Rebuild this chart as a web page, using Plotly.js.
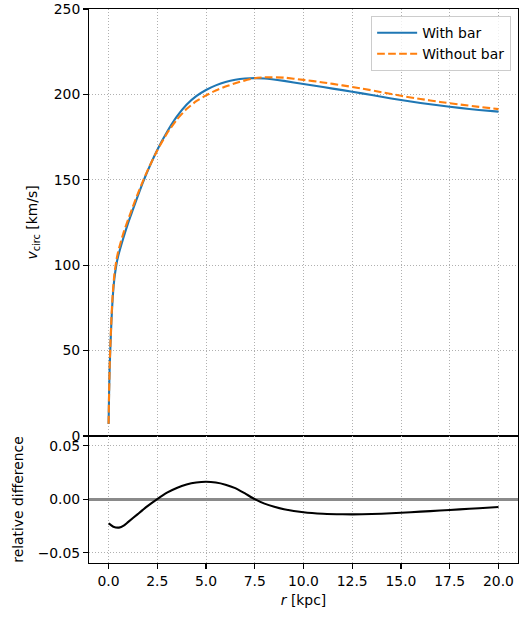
<!DOCTYPE html>
<html>
<head>
<meta charset="utf-8">
<script src="https://cdn.plot.ly/plotly-3.0.1.min.js"></script>
<style>
  html, body { margin: 0; padding: 0; background: #fff; }
  #chart { width: 519px; height: 617px; }
</style>
</head>
<body>
<div id="chart"></div>
<script>
// Radius grid [kpc]
const radius = [0.005, 0.03, 0.06, 0.09, 0.15, 0.21, 0.3, 0.4, 0.5, 0.75, 1.0, 1.25, 1.5, 1.75, 2.0, 2.5, 3.0, 3.5, 4.0, 4.5, 5.0, 5.5, 6.0, 6.5, 7.0, 7.5, 8.0, 9, 10, 11, 12, 13, 14, 15, 16, 17, 18, 19, 20];
// Circular velocity with bar [km/s]
const vWithBar = [7, 25, 40, 50, 67, 80, 92, 100, 105.5, 115.5, 124.5, 132.5, 140.5, 148, 155, 167.5, 178, 187, 194, 199, 202.6, 205.3, 207.3, 208.6, 209.3, 209.5, 209.3, 207.9, 206.1, 204.3, 202.5, 200.6, 198.6, 196.7, 195.0, 193.5, 192.1, 190.9, 189.9];
// Circular velocity without bar [km/s]
const vWithoutBar = [7.2, 25.5, 41, 51.2, 69, 82, 94.5, 102.6, 108.2, 118.3, 126.5, 134.3, 141.8, 148.8, 155.4, 167.2, 177.2, 185.2, 191.4, 196.0, 199.4, 202.3, 204.6, 206.5, 208.2, 209.5, 210, 209.8, 208.5, 207, 205.3, 203.4, 201.3, 199.2, 197.3, 195.6, 194.1, 192.7, 191.4];
// Relative difference panel
const radiusDiff = [0.005, 0.1, 0.25, 0.54, 0.8, 1.0, 1.5, 2.0, 2.5, 3.0, 3.5, 4.0, 4.5, 5.0, 5.5, 6.0, 6.5, 7.0, 7.5, 8.0, 8.5, 9.0, 10, 11, 12, 13, 14, 15, 16, 17, 18, 19, 20];
const relDiff = [-0.0225, -0.0237, -0.0256, -0.0264, -0.0243, -0.0213, -0.0138, -0.0063, 0.0003, 0.0062, 0.0106, 0.0138, 0.0157, 0.0164, 0.0157, 0.0137, 0.0105, 0.0055, 0.0002, -0.0040, -0.0070, -0.0092, -0.0121, -0.0135, -0.0140, -0.0140, -0.0134, -0.0125, -0.0115, -0.0105, -0.0094, -0.0083, -0.0071];

const legendLabels = ['With bar', 'Without bar'];
const xTickVals = [0, 2.5, 5, 7.5, 10, 12.5, 15, 17.5, 20];
const vTickVals = [0, 50, 100, 150, 200, 250];
const dTickVals = [-0.05, 0, 0.05];

const FONT = 'DejaVu Sans, sans-serif';
const FS = 13.9;
const gridStyle = { showgrid: true, gridcolor: '#b0b0b0', gridwidth: 1, griddash: '1px,2px' };
const axisCommon = {
  showline: true, linecolor: '#000', linewidth: 1.1, mirror: true,
  ticks: 'outside', ticklen: 4.9, tickwidth: 1.1, tickcolor: '#000',
  zeroline: false, tickfont: { family: FONT, size: FS, color: '#000' }
};

const traces = [
  { x: radius, y: vWithBar, xaxis: 'x', yaxis: 'y', type: 'scatter', mode: 'lines',
    name: legendLabels[0], line: { color: '#1f77b4', width: 2.1, shape: 'spline', smoothing: 0.5 } },
  { x: radius, y: vWithoutBar, xaxis: 'x', yaxis: 'y', type: 'scatter', mode: 'lines',
    name: legendLabels[1], line: { color: '#ff7f0e', width: 2.1, dash: '7.7px,3.3px', shape: 'spline', smoothing: 0.5 } },
  { x: radiusDiff, y: relDiff, xaxis: 'x2', yaxis: 'y2', type: 'scatter', mode: 'lines',
    showlegend: false, line: { color: '#000', width: 2.1, shape: 'spline', smoothing: 0.5 } }
];

const split = 127 / 554;
const layout = {
  width: 519, height: 617,
  margin: { l: 89, r: 1, t: 9, b: 54 },
  paper_bgcolor: '#fff', plot_bgcolor: '#fff',
  font: { family: FONT, size: FS, color: '#000' },
  showlegend: true,
  legend: {
    x: 0.984, y: 0.987, xanchor: 'right', yanchor: 'top',
    bgcolor: 'rgba(255,255,255,0.8)', bordercolor: '#cccccc', borderwidth: 1,
    font: { family: FONT, size: FS, color: '#000' }, itemwidth: 40
  },
  xaxis: Object.assign({}, axisCommon, gridStyle, {
    domain: [0, 1], anchor: 'y', range: [-1.0, 21.0],
    tickvals: xTickVals, showticklabels: false, ticks: ''
  }),
  yaxis: Object.assign({}, axisCommon, gridStyle, {
    domain: [split, 1], anchor: 'x', range: [0, 250],
    tickvals: vTickVals,
    title: { text: '<i>v</i><sub>circ</sub> [km/s]', font: { family: FONT, size: FS }, standoff: 12 }
  }),
  xaxis2: Object.assign({}, axisCommon, gridStyle, {
    domain: [0, 1], anchor: 'y2', range: [-1.0, 21.0], matches: 'x',
    tickvals: xTickVals, tickformat: '.1f',
    title: { text: '<i>r</i> [kpc]', font: { family: FONT, size: FS }, standoff: 7 }
  }),
  yaxis2: Object.assign({}, axisCommon, gridStyle, {
    domain: [0, split], anchor: 'x2', range: [-0.0595, 0.0592],
    tickvals: dTickVals, tickformat: '.2f',
    zeroline: true, zerolinecolor: '#8a8a8a', zerolinewidth: 2.6,
    title: { text: 'relative difference', font: { family: FONT, size: FS }, standoff: 10 }
  })
};

Plotly.newPlot('chart', traces, layout, { displayModeBar: false, staticPlot: true });
</script>
</body>
</html>
